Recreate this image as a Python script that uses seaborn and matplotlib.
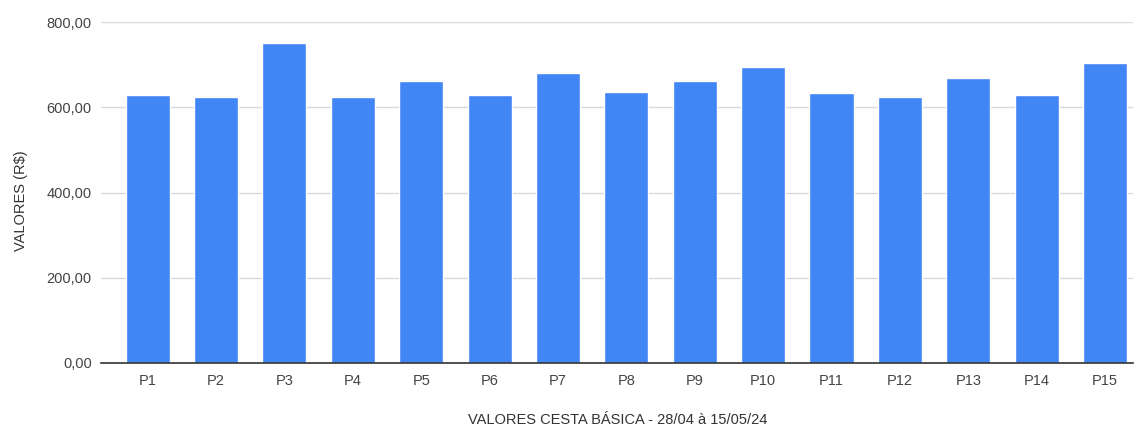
import matplotlib
matplotlib.use("Agg")
import matplotlib.pyplot as plt
import seaborn as sns
import pandas as pd
from matplotlib.ticker import FuncFormatter

categorias = ["P1", "P2", "P3", "P4", "P5", "P6", "P7", "P8", "P9", "P10",
              "P11", "P12", "P13", "P14", "P15"]
valores = [630, 625, 752, 624, 661, 630, 680, 637, 661, 694,
           634, 624, 668, 630, 705]
y_ticks = [0, 200, 400, 600, 800]

df = pd.DataFrame({"produto": categorias, "valor": valores})

sns.set_theme(style="white")
plt.rcParams["font.family"] = ["Liberation Sans", "DejaVu Sans"]

fig = plt.figure(figsize=(11.4, 4.26), dpi=100)
ax = fig.add_axes([0.089, 0.148, 0.905, 0.800])

sns.barplot(data=df, x="produto", y="valor", order=categorias,
            color="#4285F4", saturation=1, width=0.645, ax=ax)

ax.set_ylim(0, 800)
ax.set_xlim(-0.675, 14.41)
ax.set_yticks(y_ticks)
ax.yaxis.set_major_formatter(FuncFormatter(
    lambda v, p: f"{v:,.2f}".replace(",", "X").replace(".", ",").replace("X", ".")))
ax.grid(axis="y", color="#d9d9d9", linewidth=1)
ax.set_axisbelow(True)

for s in ["top", "right", "left"]:
    ax.spines[s].set_visible(False)
ax.spines["bottom"].set_color("#333333")
ax.spines["bottom"].set_linewidth(1.2)

ax.tick_params(axis="both", length=0, labelsize=10.5, colors="#444444")
ax.tick_params(axis="x", pad=8)
ax.tick_params(axis="y", pad=7)

ax.set_xlabel("VALORES CESTA BÁSICA - 28/04 à 15/05/24", fontsize=10.5,
              color="#333333", labelpad=18)
ax.set_ylabel("VALORES (R$)", fontsize=10.5, color="#333333")
ax.yaxis.set_label_coords(-0.071, 0.475)

fig.savefig("out.png", dpi=100, facecolor="white")
